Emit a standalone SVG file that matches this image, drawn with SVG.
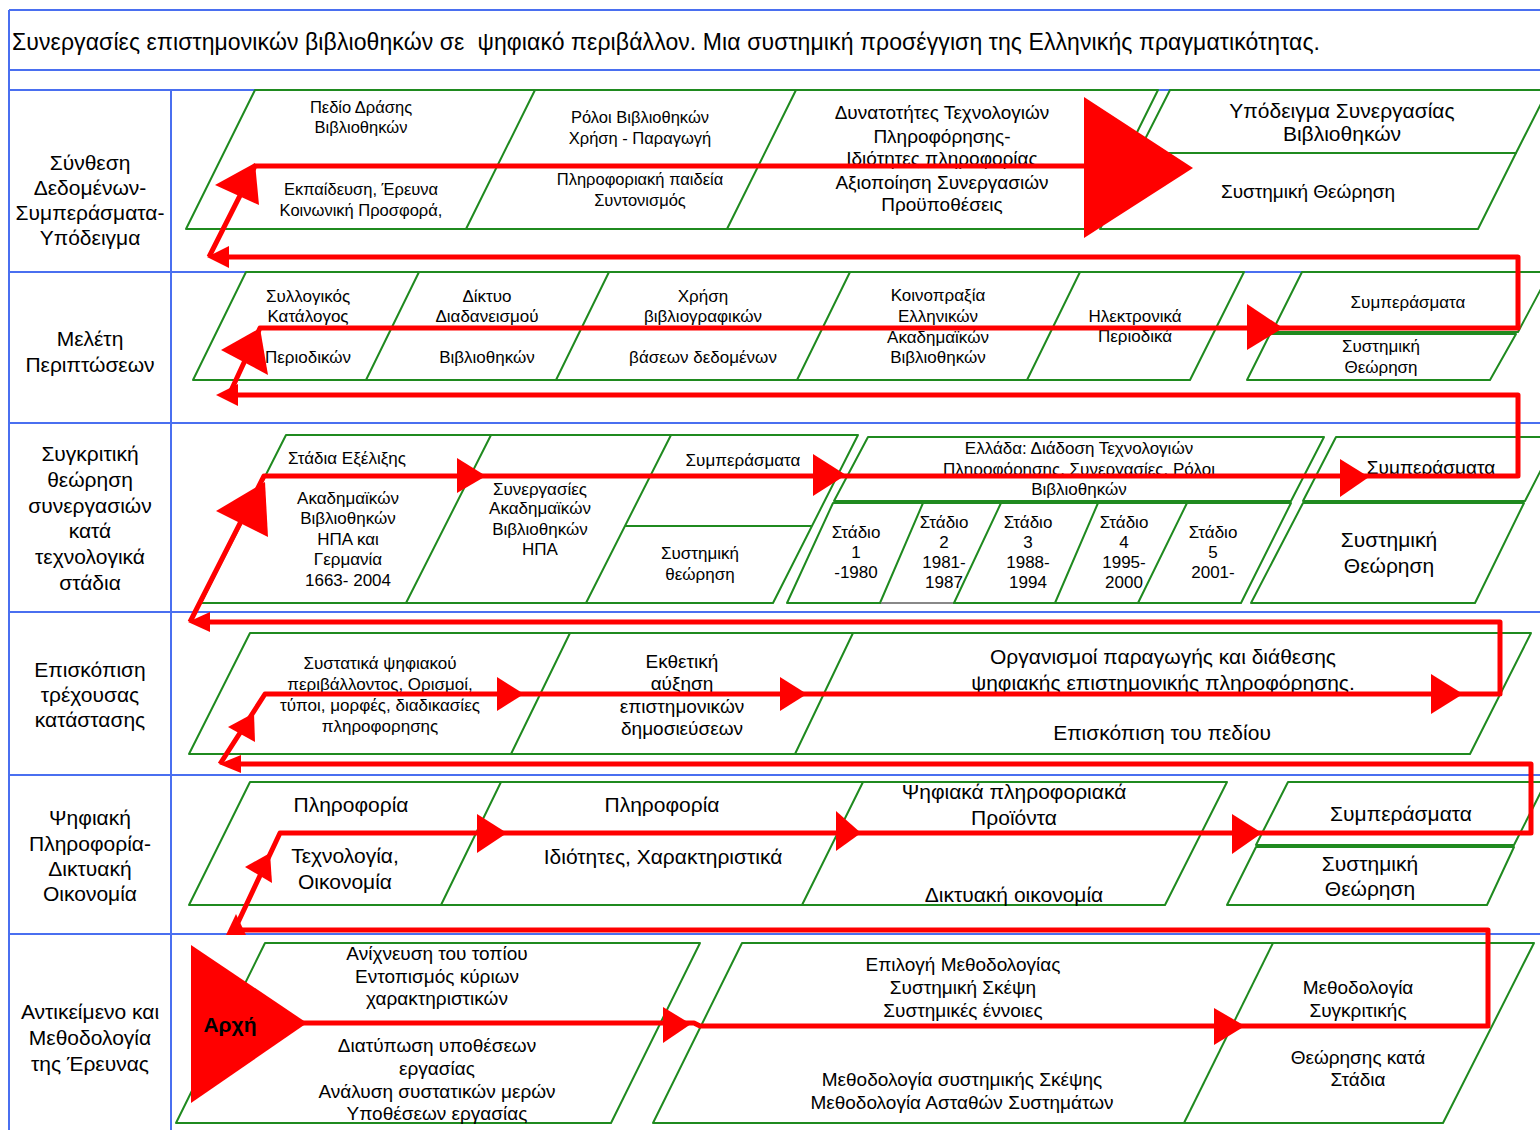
<svg xmlns="http://www.w3.org/2000/svg" width="1540" height="1130" viewBox="0 0 1540 1130">
<style>
  .t{font-family:"Liberation Sans",Arial,sans-serif;fill:#000;text-anchor:middle;dominant-baseline:central}
  .f16{font-size:16.5px}.f17{font-size:17px}.f19{font-size:19px}.f21{font-size:21px}
  .title{font-family:"Liberation Sans",Arial,sans-serif;font-size:23px;fill:#000;dominant-baseline:central;white-space:pre}
  .grid{stroke:#4a6ff0;stroke-width:2;fill:none}
  .box{fill:none;stroke:#1f8a1f;stroke-width:2;stroke-linejoin:round}
  .grey{fill:none;stroke:#888;stroke-width:2}
  .flow{fill:none;stroke:#ff0000;stroke-width:5;stroke-linejoin:round}
  .head{fill:#ff0000;stroke:none}
  .start{font-family:"Liberation Sans",Arial,sans-serif;font-size:21px;font-weight:bold;fill:#000;text-anchor:middle;dominant-baseline:central}
</style>
<rect width="1540" height="1130" fill="#fff"/>

<g id="grid">
  <path class="grid" d="M9,10H1540M9,70H1540M9,90H1540M9,272H1540M9,423H1540M9,612H1540M9,775H1540M9,934H1540M9,10V1130M171,90V1130"/>
  <text class="title" x="12" y="42" textLength="1308" lengthAdjust="spacing" xml:space="preserve">Συνεργασίες επιστημονικών βιβλιοθηκών σε  ψηφιακό περιβάλλον. Μια συστημική προσέγγιση της Ελληνικής πραγματικότητας.</text>
</g>

<g id="row-labels">
  <g id="label-row1"><text class="t f21" x="90" y="162">Σύνθεση</text><text class="t f21" x="90" y="187">Δεδομένων-</text><text class="t f21" x="90" y="212">Συμπεράσματα-</text><text class="t f21" x="90" y="237">Υπόδειγμα</text></g>
  <g id="label-row2"><text class="t f21" x="90" y="338">Μελέτη</text><text class="t f21" x="90" y="364">Περιπτώσεων</text></g>
  <g id="label-row3"><text class="t f21" x="90" y="453">Συγκριτική</text><text class="t f21" x="90" y="479">θεώρηση</text><text class="t f21" x="90" y="505">συνεργασιών</text><text class="t f21" x="90" y="530">κατά</text><text class="t f21" x="90" y="556">τεχνολογικά</text><text class="t f21" x="90" y="582">στάδια</text></g>
  <g id="label-row4"><text class="t f21" x="90" y="669">Επισκόπιση</text><text class="t f21" x="90" y="694">τρέχουσας</text><text class="t f21" x="90" y="719">κατάστασης</text></g>
  <g id="label-row5"><text class="t f21" x="90" y="817">Ψηφιακή</text><text class="t f21" x="90" y="843">Πληροφορία-</text><text class="t f21" x="90" y="868">Δικτυακή</text><text class="t f21" x="90" y="893">Οικονομία</text></g>
  <g id="label-row6"><text class="t f21" x="90" y="1011">Αντικείμενο και</text><text class="t f21" x="90" y="1037">Μεθοδολογία</text><text class="t f21" x="90" y="1063">της Έρευνας</text></g>
</g>

<!-- Row 1 -->
<g id="row1-main">
  <polygon class="box" points="255,90 1158,90 1089,229 186,229"/>
  <path class="box" d="M535,90L466,229M796,90L727,229"/>
  <text class="t f16" x="361" y="107">Πεδίο Δράσης</text><text class="t f16" x="361" y="127">Βιβλιοθηκών</text>
  <text class="t f16" x="361" y="189">Εκπαίδευση, Έρευνα</text><text class="t f16" x="361" y="210">Κοινωνική Προσφορά,</text>
  <text class="t f16" x="640" y="117">Ρόλοι Βιβλιοθηκών</text><text class="t f16" x="640" y="138">Χρήση - Παραγωγή</text>
  <text class="t f16" x="640" y="179">Πληροφοριακή παιδεία</text><text class="t f16" x="640" y="200">Συντονισμός</text>
  <text class="t f19" x="942" y="112">Δυνατοτήτες Τεχνολογιών</text><text class="t f19" x="942" y="136">Πληροφόρησης-</text><text class="t f19" x="942" y="158">Ιδιότητες πληροφορίας</text><text class="t f19" x="942" y="182">Αξιοποίηση Συνεργασιών</text><text class="t f19" x="942" y="204">Προϋποθέσεις</text>
</g>
<g id="row1-model">
  <polygon class="box" points="1170,90 1548,90 1516,153 1138,153"/>
  <polygon class="box" points="1138,153 1516,153 1478,229 1100,229"/>
  <text class="t f21" x="1342" y="110">Υπόδειγμα Συνεργασίας</text><text class="t f21" x="1342" y="133">Βιβλιοθηκών</text>
  <text class="t f19" x="1308" y="191">Συστημική Θεώρηση</text>
</g>

<!-- Row 2 -->
<g id="row2-cases">
  <polygon class="box" points="246,272 1244,272 1190,380 193,380"/>
  <path class="box" d="M419,272L366,380M609,272L556,380M850,272L797,380M1080,272L1027,380"/>
  <text class="t f17" x="308" y="296">Συλλογικός</text><text class="t f17" x="308" y="316">Κατάλογος</text><text class="t f17" x="308" y="357">Περιοδικών</text>
  <text class="t f17" x="487" y="296">Δίκτυο</text><text class="t f17" x="487" y="316">Διαδανεισμού</text><text class="t f17" x="487" y="357">Βιβλιοθηκών</text>
  <text class="t f17" x="703" y="296">Χρήση</text><text class="t f17" x="703" y="316">βιβλιογραφικών</text><text class="t f17" x="703" y="357">βάσεων δεδομένων</text>
  <text class="t f17" x="938" y="295">Κοινοπραξία</text><text class="t f17" x="938" y="316">Ελληνικών</text><text class="t f17" x="938" y="337">Ακαδημαϊκών</text><text class="t f17" x="938" y="357">Βιβλιοθηκών</text>
  <text class="t f17" x="1135" y="316">Ηλεκτρονικά</text><text class="t f17" x="1135" y="336">Περιοδικά</text>
</g>
<g id="row2-conclusions">
  <polygon class="box" points="1302,272 1550,272 1518,332 1272,332"/>
  <polygon class="box" points="1270,334 1516,334 1490,380 1247,380"/>
  <text class="t f17" x="1408" y="302">Συμπεράσματα</text>
  <text class="t f17" x="1381" y="346">Συστημική</text><text class="t f17" x="1381" y="367">Θεώρηση</text>
</g>

<!-- Row 3 -->
<g id="row3-usa">
  <polygon class="box" points="286,435 858,435 773,603 201,603"/>
  <path class="box" d="M491,435L406,603M671,435L586,603M625,526H812"/>
  <text class="t f17" x="347" y="458">Στάδια Εξέλιξης</text>
  <text class="t f17" x="348" y="498">Ακαδημαϊκών</text><text class="t f17" x="348" y="518">Βιβλιοθηκών</text><text class="t f17" x="348" y="539">ΗΠΑ και</text><text class="t f17" x="348" y="559">Γερμανία</text><text class="t f17" x="348" y="580">1663- 2004</text>
  <text class="t f17" x="540" y="489">Συνεργασίες</text><text class="t f17" x="540" y="508">Ακαδημαϊκών</text><text class="t f17" x="540" y="529">Βιβλιοθηκών</text><text class="t f17" x="540" y="549">ΗΠΑ</text>
  <text class="t f17" x="743" y="460">Συμπεράσματα</text>
  <text class="t f17" x="700" y="553">Συστημική</text><text class="t f17" x="700" y="574">θεώρηση</text>
</g>
<g id="row3-greece">
  <polygon class="box" points="868,437 1324,437 1291,501 834,501"/>
  <polygon class="box" points="833,503 1291,503 1241,603 787,603"/>
  <path class="box" d="M923,503L880,603M1001,503L954,603M1098,503L1055,603M1187,503L1138,603"/>
  <path class="grey" d="M881,603H953"/>
  <text class="t f17" x="1079" y="448">Ελλάδα: Διάδοση Τεχνολογιών</text><text class="t f17" x="1079" y="469">Πληροφόρησης, Συνεργασίες, Ρόλοι</text><text class="t f17" x="1079" y="489">Βιβλιοθηκών</text>
  <text class="t f17" x="856" y="532">Στάδιο</text><text class="t f17" x="856" y="552">1</text><text class="t f17" x="856" y="572">-1980</text>
  <text class="t f17" x="944" y="522">Στάδιο</text><text class="t f17" x="944" y="542">2</text><text class="t f17" x="944" y="562">1981-</text><text class="t f17" x="944" y="582">1987</text>
  <text class="t f17" x="1028" y="522">Στάδιο</text><text class="t f17" x="1028" y="542">3</text><text class="t f17" x="1028" y="562">1988-</text><text class="t f17" x="1028" y="582">1994</text>
  <text class="t f17" x="1124" y="522">Στάδιο</text><text class="t f17" x="1124" y="542">4</text><text class="t f17" x="1124" y="562">1995-</text><text class="t f17" x="1124" y="582">2000</text>
  <text class="t f17" x="1213" y="532">Στάδιο</text><text class="t f17" x="1213" y="552">5</text><text class="t f17" x="1213" y="572">2001-</text>
</g>
<g id="row3-conclusions">
  <polygon class="box" points="1336,437 1558,437 1525,501 1303,501"/>
  <polygon class="box" points="1303,503 1524,503 1475,603 1251,603"/>
  <text class="t f19" x="1431" y="467">Συμπεράσματα</text>
  <text class="t f21" x="1389" y="539">Συστημική</text><text class="t f21" x="1389" y="565">Θεώρηση</text>
</g>

<!-- Row 4 -->
<g id="row4-overview">
  <polygon class="box" points="250,633 1531,633 1470,754 189,754"/>
  <path class="box" d="M570,633L511,754M853,633L795,754"/>
  <text class="t f17" x="380" y="663">Συστατικά ψηφιακού</text><text class="t f17" x="380" y="684">περιβάλλοντος, Ορισμοί,</text><text class="t f17" x="380" y="705">τύποι, μορφές, διαδικασίες</text><text class="t f17" x="380" y="726">πληροφορησης</text>
  <text class="t f19" x="682" y="661">Εκθετική</text><text class="t f19" x="682" y="683">αύξηση</text><text class="t f19" x="682" y="706">επιστημονικών</text><text class="t f19" x="682" y="728">δημοσιεύσεων</text>
  <text class="t f21" x="1163" y="656">Οργανισμοί παραγωγής και διάθεσης</text><text class="t f21" x="1163" y="682">ψηφιακής επιστημονικής πληροφόρησης.</text>
  <text class="t f21" x="1162" y="732">Επισκόπιση του πεδίου</text>
</g>

<!-- Row 5 -->
<g id="row5-digital">
  <polygon class="box" points="250,782 1227,782 1165,905 189,905"/>
  <path class="box" d="M501,782L441,905M863,782L802,905"/>
  <text class="t f21" x="351" y="804">Πληροφορία</text>
  <text class="t f21" x="345" y="855">Τεχνολογία,</text><text class="t f21" x="345" y="881">Οικονομία</text>
  <text class="t f21" x="662" y="804">Πληροφορία</text>
  <text class="t f21" x="663" y="856">Ιδιότητες, Χαρακτηριστικά</text>
  <text class="t f21" x="1014" y="791">Ψηφιακά πληροφοριακά</text><text class="t f21" x="1014" y="817">Προϊόντα</text>
  <text class="t f21" x="1014" y="894">Δικτυακή οικονομία</text>
</g>
<g id="row5-conclusions">
  <polygon class="box" points="1288,782 1546,782 1514,845 1256,845"/>
  <polygon class="box" points="1256,847 1514,847 1487,905 1227,905"/>
  <text class="t f21" x="1401" y="813">Συμπεράσματα</text>
  <text class="t f21" x="1370" y="863">Συστημική</text><text class="t f21" x="1370" y="888">Θεώρηση</text>
</g>

<!-- Row 6 -->
<g id="row6-object">
  <polygon class="box" points="265,943 700,943 611,1123 176,1123"/>
  <text class="t f19" x="437" y="953">Ανίχνευση του τοπίου</text><text class="t f19" x="437" y="976">Εντοπισμός κύριων</text><text class="t f19" x="437" y="998">χαρακτηριστικών</text>
  <text class="t f19" x="437" y="1045">Διατύπωση υποθέσεων</text><text class="t f19" x="437" y="1068">εργασίας</text><text class="t f19" x="437" y="1091">Ανάλυση συστατικών μερών</text><text class="t f19" x="437" y="1113">Υποθέσεων εργασίας</text>
</g>
<g id="row6-method">
  <polygon class="box" points="742,943 1534,943 1443,1123 653,1123"/>
  <path class="box" d="M1273,943L1184,1123"/>
  <text class="t f19" x="963" y="964">Επιλογή Μεθοδολογίας</text><text class="t f19" x="963" y="987">Συστημική Σκέψη</text><text class="t f19" x="963" y="1010">Συστημικές έννοιες</text>
  <text class="t f19" x="962" y="1079">Μεθοδολογία συστημικής Σκέψης</text><text class="t f19" x="962" y="1102">Μεθοδολογία Ασταθών Συστημάτων</text>
  <text class="t f19" x="1358" y="987">Μεθοδολογία</text><text class="t f19" x="1358" y="1010">Συγκριτικής</text>
  <text class="t f19" x="1358" y="1057">Θεώρησης κατά</text><text class="t f19" x="1358" y="1079">Στάδια</text>
</g>

<!-- Red flow connectors -->
<g id="connectors">
  <path class="flow" d="M300,1023H694L700,1026H1488V930H236M234,931L280,833H1531V764H228M220,764L265,694H1500V622H198M190,622L264,476H1518V395H226M229,395L260,328H1518V257H217M209,257L255,166H1090"/>
  <!-- row 6 -->
  <polygon class="head" points="663,1007 691,1024 663,1043"/>
  <polygon class="head" points="1214,1008 1245,1026 1214,1045"/>
  <!-- row 5 -->
  <polygon class="head" points="226,935 236,914 246,935"/>
  <polygon class="head" points="245,867 270,853 272,883"/>
  <polygon class="head" points="477,814 507,833 477,853"/>
  <polygon class="head" points="836,811 861,833 836,851"/>
  <polygon class="head" points="1232,814 1262,833 1232,854"/>
  <!-- row 4 -->
  <polygon class="head" points="219,764 241,755 241,773"/>
  <polygon class="head" points="228,727 254,713 255,742"/>
  <polygon class="head" points="497,677 524,694 497,711"/>
  <polygon class="head" points="780,677 807,694 780,711"/>
  <polygon class="head" points="1431,674 1463,694 1431,714"/>
  <!-- row 3 -->
  <polygon class="head" points="188,622 210,612 210,632"/>
  <polygon class="head" points="216,511 265,482 268,537"/>
  <polygon class="head" points="457,458 486,476 457,493"/>
  <polygon class="head" points="813,454 846,475 813,496"/>
  <polygon class="head" points="1340,459 1369,477 1340,497"/>
  <!-- row 2 -->
  <polygon class="head" points="216,395 238,384 238,406"/>
  <polygon class="head" points="221,350 260,328 268,375"/>
  <polygon class="head" points="1247,304 1283,328 1247,350"/>
  <!-- row 1 -->
  <polygon class="head" points="207,257 229,246 229,268"/>
  <polygon class="head" points="215,185 255,163 259,205"/>
  <polygon class="head" points="1084,97 1193,168 1084,238"/>
</g>

<g id="start">
  <polygon class="head" points="191,945 307,1023 191,1103"/>
  <text class="start" x="230" y="1024">Αρχή</text>
</g>
</svg>
